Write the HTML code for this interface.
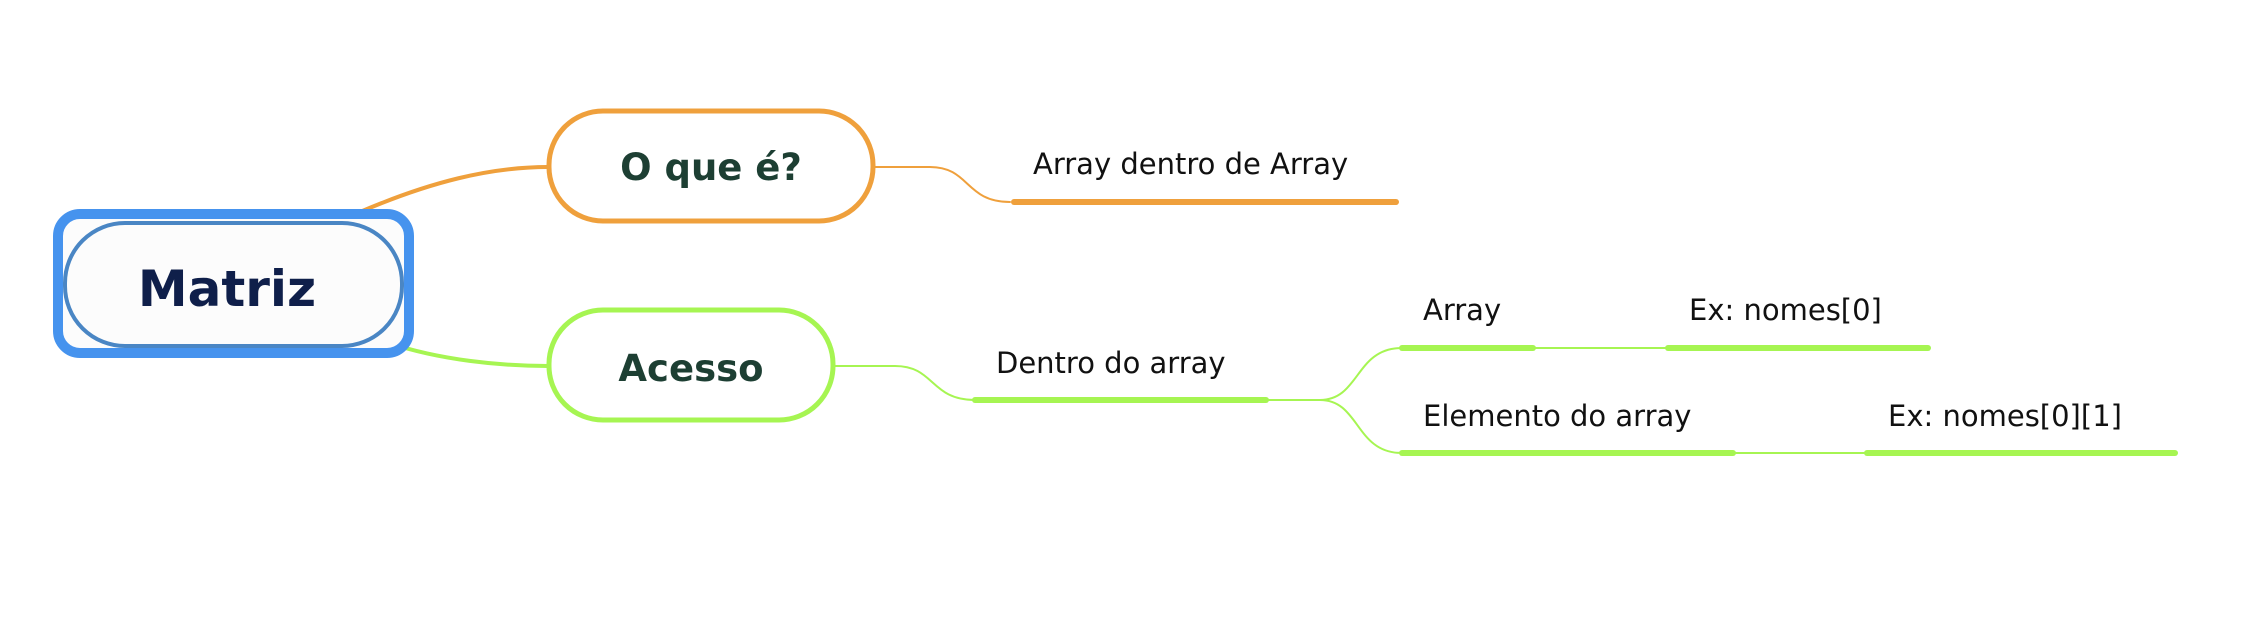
<!DOCTYPE html>
<html><head><meta charset="utf-8"><style>
html,body{margin:0;padding:0;background:#fff;width:2250px;height:644px;overflow:hidden}
svg{display:block}
text{font-family:"DejaVu Sans","Liberation Sans",sans-serif}
</style></head><body>
<svg width="2250" height="644" viewBox="0 0 2250 644" xmlns="http://www.w3.org/2000/svg">
<g fill="none" stroke-linecap="round">
<path d="M360 212 C430 182 490 167 548 167" stroke="#EFA03C" stroke-width="4"/>
<path d="M389 343 C440 360 500 366 548 366" stroke="#A6F552" stroke-width="4"/>
<path d="M874 167 L930 167 C970 167 965 202 1010 202" stroke="#EFA03C" stroke-width="2"/>
<path d="M1014 202 L1396 202" stroke="#EFA03C" stroke-width="6"/>
<path d="M834 366 L895 366 C935 366 930 400 975 400" stroke="#A6F552" stroke-width="2"/>
<path d="M975 400 L1266 400" stroke="#A6F552" stroke-width="6"/>
<path d="M1266 400 L1320 400 C1360 400 1355 348 1402 348" stroke="#A6F552" stroke-width="2"/>
<path d="M1320 400 C1360 400 1355 453 1402 453" stroke="#A6F552" stroke-width="2"/>
<path d="M1402 348 L1533 348" stroke="#A6F552" stroke-width="6"/>
<path d="M1533 348 L1668 348" stroke="#A6F552" stroke-width="2"/>
<path d="M1668 348 L1928 348" stroke="#A6F552" stroke-width="6"/>
<path d="M1402 453 L1733 453" stroke="#A6F552" stroke-width="6"/>
<path d="M1733 453 L1867 453" stroke="#A6F552" stroke-width="2"/>
<path d="M1867 453 L2175 453" stroke="#A6F552" stroke-width="6"/>
</g>
<rect x="58" y="214" width="351" height="139" rx="22" fill="#FCFCFC" stroke="#4693EE" stroke-width="10"/>
<rect x="65" y="223" width="337" height="123" rx="60" fill="#FCFCFC" stroke="#4A86C4" stroke-width="4"/>
<text x="227" y="306" text-anchor="middle" font-size="50" font-weight="bold" fill="#0F1F4A">Matriz</text>
<rect x="549" y="111" width="324" height="110" rx="54" fill="#fff" stroke="#EFA03C" stroke-width="5"/>
<text x="711" y="180" text-anchor="middle" font-size="37" font-weight="bold" fill="#1D3F33">O que é?</text>
<rect x="549" y="310" width="284" height="110" rx="54" fill="#fff" stroke="#A6F552" stroke-width="5"/>
<text x="691" y="381" text-anchor="middle" font-size="37" font-weight="bold" fill="#1D3F33">Acesso</text>
<g font-size="29" fill="#111">
<text x="1033" y="174">Array dentro de Array</text>
<text x="996" y="373">Dentro do array</text>
<text x="1423" y="320">Array</text>
<text x="1689" y="320">Ex: nomes[0]</text>
<text x="1423" y="426">Elemento do array</text>
<text x="1888" y="426">Ex: nomes[0][1]</text>
</g>
</svg>
</body></html>
